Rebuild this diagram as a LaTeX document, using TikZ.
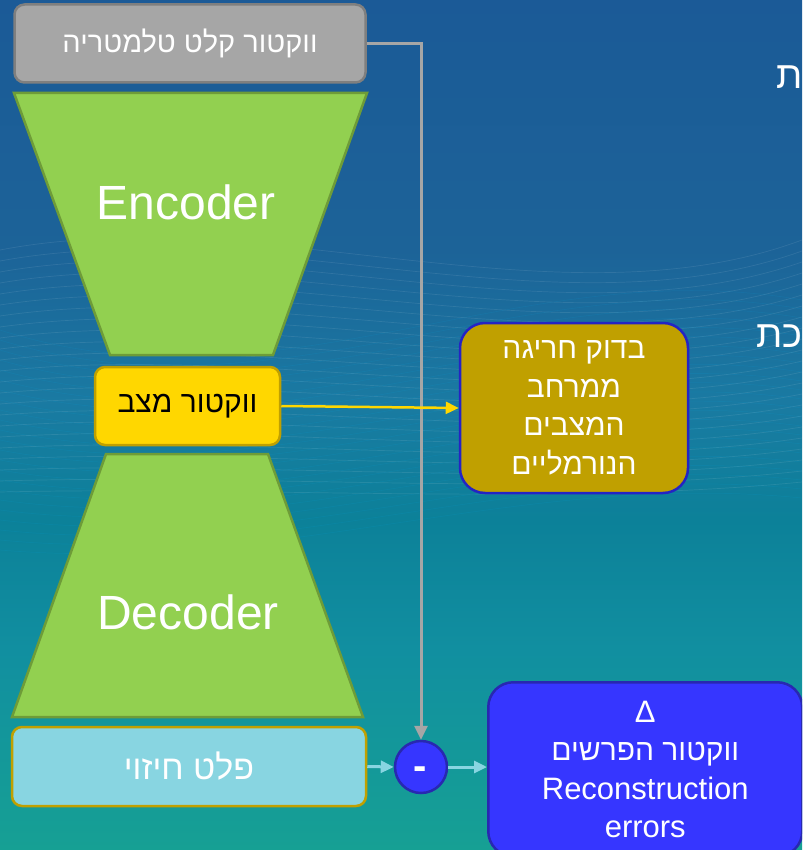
\documentclass[tikz,border=0pt]{standalone}
\usepackage{fontspec}
\setmainfont{Liberation Sans}
\newfontfamily\heb[Script=Hebrew]{Liberation Sans}
\TeXXeTstate=1
\usetikzlibrary{arrows.meta}

\definecolor{bgA}{HTML}{1B5A97}
\definecolor{bgB}{HTML}{1C6398}
\definecolor{bgC}{HTML}{1A7AA2}
\definecolor{bgD}{HTML}{0C8199}
\definecolor{bgE}{HTML}{118FA0}
\definecolor{bgF}{HTML}{16A094}
\definecolor{grayfill}{HTML}{A6A6A6}
\definecolor{grayedge}{HTML}{7F7F7F}
\definecolor{greenfill}{HTML}{92D050}
\definecolor{greenedge}{HTML}{6E9C38}
\definecolor{yellowfill}{HTML}{FFD700}
\definecolor{yellowedge}{HTML}{C0A000}
\definecolor{cyanfill}{HTML}{88D5E1}
\definecolor{goldfill}{HTML}{C0A000}
\definecolor{goldedge}{HTML}{2424C4}
\definecolor{bluefill}{HTML}{3636FF}
\definecolor{blueedge}{HTML}{2828B0}

\newcommand{\rtl}[1]{\beginR #1\endR}

% slide background, bottom (25bp) to top (75bp)
\pgfdeclareverticalshading{slidebg}{100bp}{%
  color(0bp)=(bgF); color(25bp)=(bgF); color(36.8bp)=(bgE); color(44.4bp)=(bgD);
  color(51.5bp)=(bgC); color(60.3bp)=(bgB); color(75bp)=(bgA); color(100bp)=(bgA)}

\tikzset{
  box/.style={rounded corners=10pt, line width=2.5pt, inner sep=0pt, text=white},
  trap/.style={fill=greenfill, draw=greenedge, line width=2.5pt, line join=miter},
  bigword/.style={text=white, font=\fontsize{48}{50}\selectfont},
  hebtext/.style 2 args={font=\heb\fontsize{#1}{#2}\selectfont},
  wire/.style={line width=#1, -{Triangle[length=13pt, width=12pt]}},
}

\begin{document}
\begin{tikzpicture}[x=1pt, y=-1pt]
\useasboundingbox (0,0) rectangle (802,850);
\clip (0,0) rectangle (802,850);

\fill[shading=slidebg] (0,0) rectangle (802,850);
% faint wave mesh across the middle of the slide
\foreach \i in {0,...,22}{
  \draw[white, opacity=0.09, line width=0.7]
    (0,250+\i*11) .. controls (260,200+\i*13) and (560,330+\i*8) .. (802,240+\i*11);
  \draw[cyan, opacity=0.10, line width=0.7]
    (0,330+\i*10) .. controls (280,420+\i*7) and (520,250+\i*10) .. (802,300+\i*9);
}

% words running off the right margin
\node[hebtext={38}{38}, text=white, anchor=base west, inner sep=0pt] (edgeA) at (776,89) {\rtl{ת}};
\node[hebtext={38}{38}, text=white, anchor=base west, inner sep=0pt] (edgeB) at (756,347) {\rtl{כת}};

% input vector
\node[box, fill=grayfill, draw=grayedge, minimum width=351, minimum height=78,
      hebtext={29}{32}] (input) at (190,43.5) {\rtl{ווקטור קלט טלמטריה}};

% encoder
\draw[trap] (14,93) -- (367,93) -- (273,355) -- (110,355) -- cycle;
\node[bigword] (enc) at (186,202) {Encoder};

% latent state vector
\node[box, fill=yellowfill, draw=yellowedge, minimum width=185, minimum height=78,
      hebtext={30}{32}, text=black] (state) at (187.5,406) {\rtl{ווקטור מצב}};

% decoder
\draw[trap] (106,454) -- (268,454) -- (363,717) -- (12,717) -- cycle;
\node[bigword] (dec) at (188,612) {Decoder};

% reconstructed output
\node[box, fill=cyanfill, draw=yellowedge, minimum width=354, minimum height=79,
      hebtext={34}{36}] (pred) at (189,766.5) {\rtl{פלט חיזוי}};

% difference operator
\node[circle, fill=bluefill, draw=blueedge, line width=2.5pt, minimum size=52pt,
      inner sep=0pt, text=white] (diff) at (421,767) {};
\node[text=white, font=\bfseries\fontsize{40}{40}\selectfont, inner sep=0pt]
      (minus) at (420.5,773) {-};

% normal-space check
\node[box, rounded corners=25pt, fill=goldfill, draw=goldedge, minimum width=228,
      minimum height=170, align=center, hebtext={30}{38.5}]
      (check) at (574,408)
      {\rtl{בדוק חריגה}\\\rtl{ממרחב}\\\rtl{המצבים}\\\rtl{הנורמליים}};

% reconstruction errors
\node[box, rounded corners=25pt, fill=bluefill, draw=blueedge, minimum width=314,
      minimum height=174, anchor=north west, align=center,
      font=\fontsize{31}{38.5}\selectfont]
      (err) at (487,681)
      {Δ\\{\heb\fontsize{30}{38.5}\selectfont\rtl{ווקטור הפרשים}}\\Reconstruction\\errors};

% connectors
\draw[wire=3pt, grayfill, -{Triangle[length=14pt, width=13pt]}]
  (input.east) -- (input.east -| diff) -- (diff.north);
\draw[wire=2.5pt, yellowfill] (state.east) -- (check.west);
\draw[wire=3pt, cyanfill] (pred.east) -- (diff.west);
\draw[wire=3pt, cyanfill] (diff.east) -- (diff.east -| err.west);
\end{tikzpicture}
\end{document}
